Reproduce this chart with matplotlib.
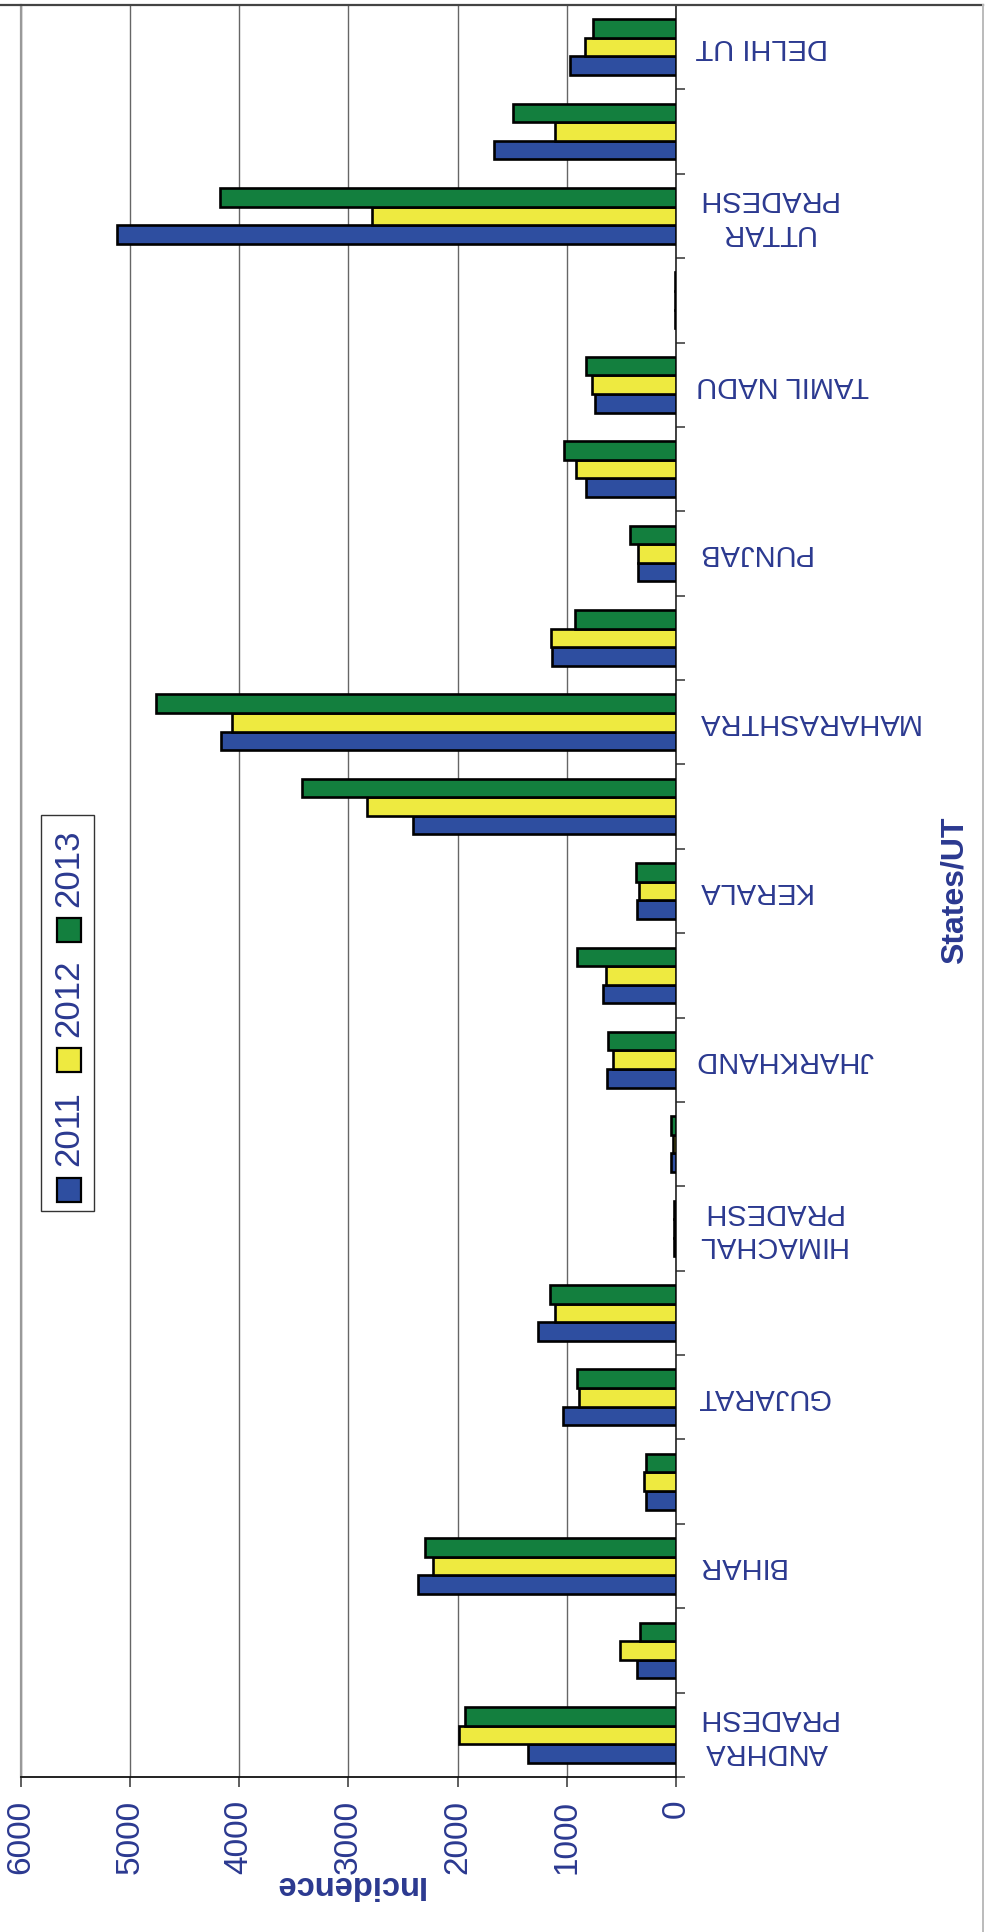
import matplotlib
matplotlib.use("Agg")
import matplotlib.pyplot as plt
import numpy as np
from matplotlib.patches import Rectangle
from matplotlib.lines import Line2D

plt.rcParams['font.family'] = ['Liberation Sans', 'DejaVu Sans']

# ---- data (bottom to top as drawn) ----
states = ["ANDHRA\nPRADESH", "", "BIHAR", "", "GUJARAT", "", "HIMACHAL\nPRADESH", "",
          "JHARKHAND", "", "KERALA", "", "MAHARASHTRA", "", "PUNJAB", "",
          "TAMIL NADU", "", "UTTAR\nPRADESH", "", "DELHI UT"]
v2011 = [1359, 354, 2363, 275, 1031, 1268, 15, 49, 636, 669, 358, 2408, 4168, 1137,
         349, 822, 744, 8, 5121, 1665, 973]
v2012 = [1991, 512, 2228, 297, 884, 1110, 15, 27, 580, 642, 343, 2829, 4066, 1148,
         349, 912, 771, 8, 2787, 1105, 836]
v2013 = [1934, 331, 2296, 275, 907, 1156, 15, 49, 625, 911, 364, 3428, 4759, 923,
         417, 1024, 824, 8, 4178, 1496, 757]
series_names = ["2011", "2012", "2013"]
xticks = [0, 1000, 2000, 3000, 4000, 5000, 6000]

colors = ["#2E4EA0", "#EEEA40", "#137F3E"]
txt_color = "#2B3990"

W, H = 985, 1932
fig = plt.figure(figsize=(W / 100, H / 100), dpi=100)
ax_l, ax_r, ax_t, ax_b = 20.8, 676.0, 5.0, 1777.0
ax = fig.add_axes([ax_l / W, 1 - ax_b / H, (ax_r - ax_l) / W, (ax_b - ax_t) / H])

y = np.arange(len(states))
bh = 0.22
for k, (vals, c) in enumerate(zip([v2011, v2012, v2013], colors)):
    ax.barh(y + (k - 1) * bh, vals, height=bh, color=c, edgecolor="black",
            linewidth=1.9, zorder=3)

ax.set_xlim(6000, 0)
ax.set_ylim(-0.5, len(states) - 0.5)
ax.set_xticks(xticks)
ax.set_xticklabels([str(t) for t in xticks], rotation=90, color=txt_color, fontsize=24)
ax.tick_params(axis="x", direction="out", length=7.2, width=1.1, color="#333333", pad=9)
ax.grid(axis="x", color="#666666", linewidth=1.0, zorder=0)
ax.set_axisbelow(True)

ax.yaxis.set_ticks_position("right")
ax.set_yticks([])
ax.set_yticks(np.arange(-0.5, len(states), 1.0), minor=True)
ax.tick_params(axis="y", which="minor", direction="out", length=6.5, width=1.1,
               color="#333333", right=True, left=False, labelright=False)

ax.spines["top"].set_color("#555555")
ax.spines["top"].set_linewidth(1.4)
ax.spines["left"].set_color("#999999")
ax.spines["left"].set_linewidth(1.6)
ax.spines["right"].set_color("#222222")
ax.spines["right"].set_linewidth(1.2)
ax.spines["bottom"].set_color("#111111")
ax.spines["bottom"].set_linewidth(1.3)

# category labels (upside down, as in the rotated original)
xt = 1 + 20 / (ax_r - ax_l)
for yi, lab in zip(y, states):
    if not lab:
        continue
    ax.text(xt, yi, lab, transform=ax.get_yaxis_transform(), ha="left",
            va="center", multialignment="center", fontsize=21, color=txt_color,
            rotation=180, linespacing=1.25, clip_on=False)

# axis titles
ax.set_xlabel("Incidence", rotation=180, fontsize=23.5, fontweight="bold",
              color=txt_color, va="center", ha="center")
ax.xaxis.set_label_coords(0.5, -(1884 - ax_b) / (ax_b - ax_t))
fig.text(955 / W, 1 - 890 / H, "States/UT", rotation=90, fontsize=23,
         fontweight="bold", color=txt_color, ha="center", va="center")

# legend (rotated layout, drawn manually)
fig.add_artist(Rectangle((41 / W, 1 - 1211 / H), 53 / W, 396 / H,
                         transform=fig.transFigure, facecolor="white",
                         edgecolor="#333333", linewidth=1.0))
sq_centers = [1190, 1060, 930]
txt_centers = [1129, 998, 868]
for name, c, sc, tc in zip(series_names, colors, sq_centers, txt_centers):
    fig.add_artist(Rectangle(((69 - 12) / W, 1 - (sc + 12) / H), 24 / W, 24 / H,
                             transform=fig.transFigure, facecolor=c,
                             edgecolor="black", linewidth=1.6))
    fig.text(68.5 / W, 1 - tc / H, name, rotation=90, fontsize=25, color=txt_color,
             ha="center", va="center")

# chart-area border (top and right parts visible)
fig.add_artist(Line2D([0, 983 / W], [1 - 5 / H, 1 - 5 / H], transform=fig.transFigure,
                      color="#444444", linewidth=1.6))
fig.add_artist(Line2D([983 / W, 983 / W], [0, 1 - 5 / H], transform=fig.transFigure,
                      color="#BBBBBB", linewidth=1.4))

fig.savefig("out.png", dpi=100)
